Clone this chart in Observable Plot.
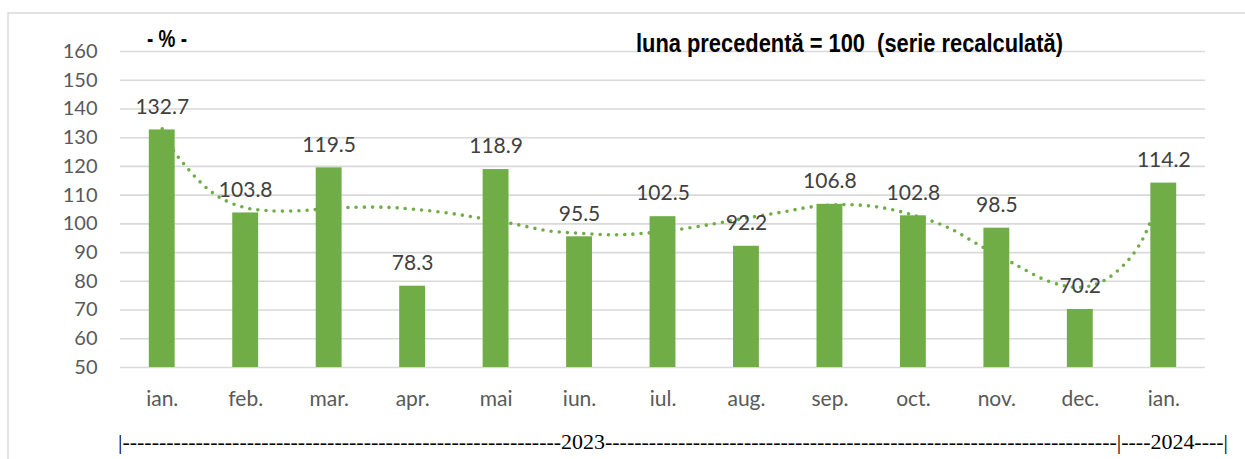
<!DOCTYPE html>
<html>
<head>
<meta charset="utf-8">
<script src="https://cdn.jsdelivr.net/npm/d3@7"></script>
<script src="https://cdn.jsdelivr.net/npm/@observablehq/plot@0.6"></script>
<style>
  html, body { margin: 0; padding: 0; background: #fff; }
  #chart { position: relative; width: 1245px; height: 459px; overflow: hidden; }
</style>
</head>
<body>
<div id="chart"></div>
<script>
// ---- data ----
const months = ["ian.", "feb.", "mar.", "apr.", "mai", "iun.", "iul.", "aug.", "sep.", "oct.", "nov.", "dec.", "ian."];
const values = [132.7, 103.8, 119.5, 78.3, 118.9, 95.5, 102.5, 92.2, 106.8, 102.8, 98.5, 70.2, 114.2];
const yTicks = [50, 60, 70, 80, 90, 100, 110, 120, 130, 140, 150, 160];
// dotted trend line (x = month position, y = value)
const trendPos = [0, 0.135, 0.255, 0.40, 0.54, 0.70, 0.97, 1.26, 1.66, 2.05, 2.65, 3.01, 3.42, 3.81, 4.21, 4.62, 5.01, 5.41, 5.77, 6.17, 6.61, 6.99, 7.41, 7.80, 8.21, 8.61, 8.99, 9.41, 9.80, 10.16, 10.64, 11.00, 11.28, 11.57, 11.75, 11.83, 12.0];
const trendVal = [133.1, 125.5, 121, 116.2, 112.3, 109, 105.8, 104.6, 104.6, 105.5, 105.8, 105.1, 103.8, 102, 100, 97.6, 96.7, 96.2, 96.7, 98, 100, 102, 104, 106, 106.7, 105.7, 103.1, 98.8, 92.4, 86.8, 79.8, 77.9, 80.2, 87.2, 94.8, 100, 110];
const unitLabel = "- % -";
const titleText = "luna precedentă = 100  (serie recalculată)";
const yearLine = "|" + "-".repeat(60) + "2023" + "-".repeat(70) + "|----2024----|";

const bars = values.map((v, i) => ({i, v, m: months[i]}));
const trend = trendPos.map((p, k) => ({p, t: trendVal[k]}));
const green = "#70AD47";
const yMin = yTicks[0], yMax = yTicks[yTicks.length - 1];
const halfBar = 0.155;

const plot = Plot.plot({
  width: 1245,
  height: 459,
  marginLeft: 120,
  marginRight: 40,
  marginTop: 51,
  marginBottom: 92,
  style: {fontFamily: "Lato, sans-serif", background: "transparent", overflow: "visible"},
  x: {type: "linear", domain: [-0.5, months.length - 0.5]},
  y: {domain: [yMin, yMax]},
  marks: [
    Plot.ruleY(yTicks, {stroke: "#d9d9d9", strokeWidth: 1.6}),
    Plot.axisY({ticks: yTicks, tickSize: 0, tickPadding: 23, fontSize: 20, fill: "#595959", label: null}),
    Plot.axisX({ticks: d3.range(months.length), tickFormat: i => months[i], tickSize: 0, tickPadding: 24, fontSize: 21, fill: "#595959", label: null}),
    Plot.line(trend, {x: "p", y: "t", curve: "catmull-rom", stroke: green, strokeWidth: 3.6, strokeDasharray: "0 8.2", strokeLinecap: "round"}),
    Plot.rect(bars, {x1: d => d.i - halfBar, x2: d => d.i + halfBar, y1: () => yMin, y2: "v", fill: green}),
    Plot.text(bars, {x: "i", y: "v", text: d => d.v.toFixed(1), dy: -23, fontSize: 21, fill: "#404040"})
  ]
});

const svg = d3.select(plot);
// outer chart-area border
svg.insert("rect", ":first-child")
  .attr("x", 8).attr("y", 13).attr("width", 1260).attr("height", 470)
  .attr("fill", "white").attr("stroke", "#d9d9d9").attr("stroke-width", 1.5);

svg.append("text")
  .attr("x", 147).attr("y", 47)
  .attr("text-anchor", "start")
  .attr("font-family", "'Liberation Sans', Arial, sans-serif")
  .attr("font-weight", "bold").attr("font-size", 23).attr("fill", "#000")
  .attr("textLength", 40).attr("lengthAdjust", "spacingAndGlyphs")
  .text(unitLabel);

svg.append("text")
  .attr("x", 636).attr("y", 52)
  .attr("text-anchor", "start")
  .attr("font-family", "'Liberation Sans', Arial, sans-serif")
  .attr("font-weight", "bold").attr("font-size", 25).attr("fill", "#000")
  .attr("textLength", 427).attr("lengthAdjust", "spacingAndGlyphs")
  .text(titleText);

svg.append("text")
  .attr("x", 118).attr("y", 449)
  .attr("text-anchor", "start")
  .attr("font-family", "'Liberation Serif', 'Times New Roman', serif")
  .attr("font-size", 21).attr("fill", "#000")
  .attr("textLength", 1110).attr("lengthAdjust", "spacingAndGlyphs")
  .text(yearLine);

document.getElementById("chart").appendChild(plot);
</script>
</body>
</html>
